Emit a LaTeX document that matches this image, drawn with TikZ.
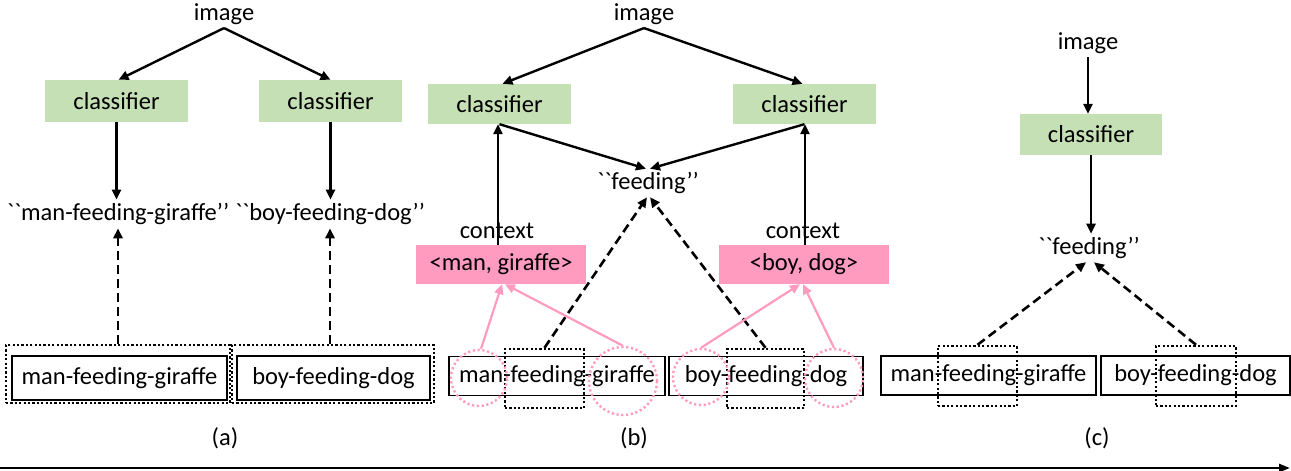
\documentclass[tikz,border=0pt]{standalone}
\usepackage{fontspec}
\setmainfont{Carlito}
\usetikzlibrary{arrows.meta, positioning, shapes.geometric}
\definecolor{clsGreen}{RGB}{197,224,180}
\definecolor{ctxPink}{RGB}{255,155,190}
\newcommand{\labelsize}{\fontsize{24.5}{29}\selectfont}
\newcommand{\qt}[1]{\textasciigrave\textasciigrave #1’’}

\begin{document}
\begin{tikzpicture}[
    x=1pt, y=-1pt,
    every node/.style={font=\labelsize},
    clsbox/.style={rectangle, fill=clsGreen, minimum width=143pt, minimum height=42pt},
    ctxbox/.style={rectangle, fill=ctxPink, minimum width=170pt, minimum height=39pt},
    phrase/.style={rectangle, draw, line width=1.7pt, inner sep=0pt},
    region/.style={rectangle, draw, line width=2.4pt, dash pattern=on 2.2pt off 2.2pt, inner sep=0pt},
    ring/.style={circle, draw=ctxPink, line width=2.4pt, dash pattern=on 2.2pt off 2.6pt, inner sep=0pt},
    arrow/.style={-{Triangle[length=10pt, width=9pt]}, line width=2.4pt},
    dasharrow/.style={-{Triangle[length=10pt, width=9pt]}, line width=2.6pt, dash pattern=on 9pt off 5pt},
    pinkarrow/.style={-{Triangle[length=10pt, width=9pt]}, line width=2.2pt, draw=ctxPink, color=ctxPink}
]
\useasboundingbox (0,0) rectangle (1291,471);

% (a) one classifier per whole phrase
\node (imga) at (224,14) {image};
\node[clsbox] (clsal) at (116.5,101) {classifier};
\node[clsbox] (clsar) at (330.5,101) {classifier};
\node (lblal) at (118,214) {\qt{man-feeding-giraffe}};
\node (lblar) at (330,214) {\qt{boy-feeding-dog}};
\node[region, minimum width=224pt, minimum height=58pt] (rgnal) at (118,374) {};
\node[region, minimum width=202pt, minimum height=58pt] (rgnar) at (333,374) {};
\node[phrase, minimum width=215pt, minimum height=44pt] (phral) at (119.5,378) {man-feeding-giraffe};
\node[phrase, minimum width=193pt, minimum height=44pt] (phrar) at (333.5,378) {boy-feeding-dog};
\node (capa) at (225,438) {(a)};

\draw[arrow] (imga.south) -- ([xshift=2pt]clsal.north);
\draw[arrow] (imga.south) -- (clsar.north);
\draw[arrow] (clsal.south) -- (lblal.north -| clsal.south);
\draw[arrow] (clsar.south) -- (lblar.north -| clsar.south);
\draw[dasharrow] (rgnal.north) -- (lblal.south);
\draw[dasharrow] ([xshift=-3pt]rgnar.north) -- (lblar.south);

% (b) shared predicate classifier with context
\node (imgb) at (644,14) {image};
\node[clsbox, minimum height=40pt] (clsbl) at (499.5,104) {classifier};
\node[clsbox, minimum height=40pt] (clsbr) at (804.5,104) {classifier};
\node (feedb) at (648,183) {\qt{feeding}};
\node[ctxbox] (ctxl) at (501,264.5) {<man, giraffe>};
\node[ctxbox] (ctxr) at (804,264.5) {<boy, dog>};
\node (ctxtl) at (497,231) {context};
\node (ctxtr) at (803,231) {context};
\node[phrase, minimum width=216pt, minimum height=39pt] (phrbl) at (557,376) {man-feeding-giraffe};
\node[phrase, minimum width=194pt, minimum height=39pt] (phrbr) at (766,376) {boy-feeding-dog};
\node[region, minimum width=79pt, minimum height=59pt] (rgnbl) at (544.5,378.5) {};
\node[region, minimum width=77pt, minimum height=59pt] (rgnbr) at (765.5,378.5) {};
\node[ring, minimum size=56pt] (ringman) at (479,378) {};
\node[ring, minimum size=68pt] (ringgir) at (623,381) {};
\node[ring, minimum size=56pt] (ringboy) at (701,377) {};
\node[ring, minimum size=58pt] (ringdog) at (834,378) {};
\node (capb) at (634,438) {(b)};

\draw[arrow] (imgb.south) -- ([xshift=3pt]clsbl.north);
\draw[arrow] (imgb.south) -- ([xshift=-2pt]clsbr.north);
\draw[arrow] (clsbl.south) -- ([xshift=-2pt]feedb.north);
\draw[arrow] (clsbr.south) -- ([xshift=2pt]feedb.north);
\draw[arrow] ([xshift=-3pt]ctxl.north) -- ([xshift=-3pt]ctxl.north |- clsbl.south);
\draw[arrow] ([xshift=1pt]ctxr.north) -- ([xshift=1pt]ctxr.north |- clsbr.south);
\draw[dasharrow] (rgnbl.north) -- ([xshift=-1pt]feedb.south);
\draw[dasharrow] (rgnbr.north) -- ([xshift=2pt]feedb.south);
\draw[pinkarrow] ([xshift=2pt]ringman.north) -- ([xshift=1pt]ctxl.south);
\draw[pinkarrow] (ringgir.north) -- ([xshift=4pt]ctxl.south);
\draw[pinkarrow] (ringboy.north) -- ([xshift=-4pt]ctxr.south);
\draw[pinkarrow] (ringdog.north) -- ([xshift=-1pt]ctxr.south);

% (c) one predicate classifier
\node (imgc) at (1088,43) {image};
\node[clsbox, minimum width=142pt, minimum height=41pt] (clsc) at (1091,134.5) {classifier};
\node (feedc) at (1089,248) {\qt{feeding}};
\node[phrase, minimum width=215pt, minimum height=39pt] (phrcl) at (988.5,375.5) {man-feeding-giraffe};
\node[phrase, minimum width=189pt, minimum height=39pt] (phrcr) at (1195.5,375.5) {boy-feeding-dog};
\node[region, minimum width=79pt, minimum height=60pt] (rgncl) at (977.5,376) {};
\node[region, minimum width=80pt, minimum height=60pt] (rgncr) at (1196,376) {};
\node (capc) at (1097,438) {(c)};

\draw[arrow] (imgc.south) -- (imgc.south |- clsc.north);
\draw[arrow] (clsc.south) -- (clsc.south |- feedc.north);
\draw[dasharrow] (rgncl.north) -- ([xshift=-3pt]feedc.south);
\draw[dasharrow] (rgncr.north) -- ([xshift=5pt]feedc.south);

% time line
\coordinate (tl) at (0,468);
\coordinate (tr) at (1290,468);
\draw[-{Triangle[length=11pt, width=8pt]}, line width=2.6pt] (tl) -- (tr);

\end{tikzpicture}
\end{document}
